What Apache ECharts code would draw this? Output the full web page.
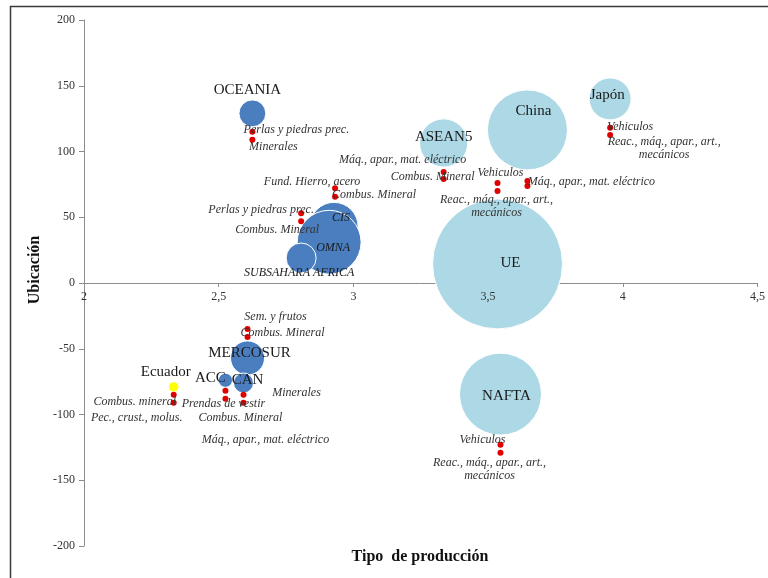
<!DOCTYPE html>
<html>
<head>
<meta charset="utf-8">
<script src="https://cdn.jsdelivr.net/npm/echarts@6/dist/echarts.min.js"></script>
<style>html,body{margin:0;padding:0;background:#fff;}#c{width:768px;height:578px;}</style>
</head>
<body>
<div id="c"></div>
<script>
// ---- data ----
const xTicks = [2, 2.5, 3, 3.5, 4, 4.5];
const yTicks = [-200, -150, -100, -50, 0, 50, 100, 150, 200];

const developingNames = ['OCEANIA', 'CIS', 'OMNA', 'SUBSAHARA AFRICA', 'MERCOSUR', 'ACC', 'CAN'];
const developingX = [2.625, 2.928, 2.91, 2.806, 2.607, 2.525, 2.592];
const developingY = [129, 43, 31, 19, -57, -74, -76];
const developingWeight = [18, 58, 102, 22.5, 29, 5, 10];

const developedNames = ['ASEAN5', 'China', 'Japón', 'UE', 'NAFTA'];
const developedX = [3.335, 3.646, 3.953, 3.535, 3.546];
const developedY = [106.5, 116.4, 140, 14.5, -84.5];
const developedWeight = [58, 160, 44, 422, 168];

const ecuadorName = ['Ecuador'];
const ecuadorX = [2.333];
const ecuadorY = [-79];
const ecuadorWeight = [2.2];

const productNames = [
  'Perlas y piedras prec.', 'Minerales',
  'Fund. Hierro, acero', 'Combus. Mineral',
  'Perlas y piedras prec.', 'Combus. Mineral',
  'Máq., apar., mat. eléctrico', 'Combus. Mineral',
  'Vehiculos', 'Reac., máq., apar., art.,\nmecánicos',
  'Máq., apar., mat. eléctrico', '',
  'Vehiculos', 'Reac., máq., apar., art.,\nmecánicos',
  'Vehiculos', 'Reac., máq., apar., art.,\nmecánicos',
  'Sem. y frutos', 'Combus. Mineral',
  'Combus. mineral', 'Pec., crust., molus.',
  'Prendas de vestir', 'Combus. Mineral',
  'Minerales', 'Máq., apar., mat. eléctrico'
];
const productX = [
  2.625, 2.625, 2.932, 2.932, 2.806, 2.806, 3.335, 3.335, 3.535, 3.535,
  3.646, 3.646, 3.953, 3.953, 3.546, 3.546, 2.607, 2.607, 2.333, 2.333,
  2.525, 2.525, 2.592, 2.592
];
const productY = [
  115, 109, 72, 65.5, 53, 47, 84.5, 79, 76, 70,
  77.6, 73.8, 118, 112.5, -123, -129, -35, -41, -85, -91,
  -82, -88, -85, -91
];

// ---- label placement (styling only) ----
const developingLabelOffset = [[-5, -23], [7, -9], [4, 6], [-2, 15], [2, -5], [-15, -2], [4, -3]];
const developingLabelItalic = [false, true, true, true, false, false, false];
const developedLabelOffset = [[0, -6], [6, -19], [-3, -4], [13, -1], [6, 2]];
const ecuadorLabelOffset = [[-8, -15]];
const productLabelOffset = [
  [44, -2], [21, 7],
  [-23, -6], [39, -2],
  [-40, -3], [-24, 9],
  [-41, -12], [-11, -2],
  [3, -10], [-1, 15],
  [64, 1], [0, 0],
  [20, -1], [54, 13],
  [-18, -5], [-11, 17],
  [28, -12], [35, -4],
  [-39, 7], [-37, 15],
  [-2, 13], [15, 19],
  [53, -2], [22, 37]
];

const SERIF = '"Liberation Serif", "Times New Roman", serif';

function bubbleData(names, xs, ys, ws, offs, italics) {
  return names.map((n, i) => ({
    name: n,
    value: [xs[i], ys[i], ws[i]],
    label: {
      offset: offs[i],
      fontStyle: italics && italics[i] ? 'italic' : 'normal',
      fontSize: italics && italics[i] ? 12 : 15
    }
  }));
}
const bubbleSize = v => Math.sqrt(v[2] * 10) * 2;
const bubbleLabel = {
  show: true, position: 'inside', formatter: '{b}',
  fontFamily: SERIF, color: '#1a1a1a'
};

const GRID_TOP = 20, GRID_BOTTOM = 32, H = 578;
const plotH = H - GRID_TOP - GRID_BOTTOM;
const zeroOffset = -plotH * (0 - yTicks[0]) / (yTicks[yTicks.length - 1] - yTicks[0]);

const xBase = {
  type: 'value', min: xTicks[0], max: xTicks[xTicks.length - 1], interval: 0.5,
  position: 'bottom', offset: zeroOffset, splitLine: { show: false }
};

const chart = echarts.init(document.getElementById('c'), null, { renderer: 'canvas' });
chart.setOption({
  animation: false,
  backgroundColor: '#fff',
  grid: { left: 84, right: 8, top: GRID_TOP, bottom: GRID_BOTTOM, containLabel: false },
  xAxis: [
    Object.assign({}, xBase, {
      z: 0,
      axisLine: { onZero: false, lineStyle: { color: '#8c8c8c', width: 1 } },
      axisTick: { show: true, length: 4, lineStyle: { color: '#8c8c8c' } },
      axisLabel: { show: false }
    }),
    Object.assign({}, xBase, {
      z: 20,
      axisLine: { show: false, onZero: false },
      axisTick: { show: false },
      axisLabel: {
        margin: 8, fontFamily: SERIF, fontSize: 12, color: '#333',
        formatter: v => String(v).replace('.', ',')
      }
    })
  ],
  yAxis: {
    type: 'value', min: yTicks[0], max: yTicks[yTicks.length - 1], interval: 50,
    axisLine: { show: true, onZero: false, lineStyle: { color: '#8c8c8c', width: 1 } },
    axisTick: { show: true, length: 5, lineStyle: { color: '#8c8c8c' } },
    axisLabel: { margin: 9, fontFamily: SERIF, fontSize: 12, color: '#333' },
    splitLine: { show: false }
  },
  graphic: [
    {
      type: 'rect', silent: true, z: 100,
      shape: { x: 10.5, y: 6.5, width: 900, height: 700 },
      style: { fill: null, stroke: '#3a3a3a', lineWidth: 1.5 }
    },
    {
      type: 'text', silent: true, x: 420, y: 557,
      style: {
        text: 'Tipo  de producción', font: 'bold 16px ' + SERIF, fill: '#111',
        textAlign: 'center', textVerticalAlign: 'middle'
      }
    },
    {
      type: 'text', silent: true, x: 35, y: 270, rotation: Math.PI / 2,
      style: {
        text: 'Ubicación', font: 'bold 16px ' + SERIF, fill: '#111',
        textAlign: 'center', textVerticalAlign: 'middle'
      }
    }
  ],
  series: [
    {
      name: 'Desarrollados', type: 'scatter', z: 2, xAxisIndex: 0,
      symbolSize: bubbleSize,
      itemStyle: { color: '#ADD8E6', borderColor: '#fff', borderWidth: 1, opacity: 1 },
      label: bubbleLabel,
      emphasis: { disabled: true },
      data: bubbleData(developedNames, developedX, developedY, developedWeight, developedLabelOffset)
    },
    {
      name: 'En desarrollo', type: 'scatter', z: 3, xAxisIndex: 0,
      symbolSize: bubbleSize,
      itemStyle: { color: '#4A7EBF', borderColor: '#fff', borderWidth: 1, opacity: 1 },
      label: bubbleLabel,
      emphasis: { disabled: true },
      data: bubbleData(developingNames, developingX, developingY, developingWeight, developingLabelOffset, developingLabelItalic)
    },
    {
      name: 'Ecuador', type: 'scatter', z: 3, xAxisIndex: 0,
      symbolSize: bubbleSize,
      itemStyle: { color: '#FFFF00', opacity: 1 },
      label: bubbleLabel,
      emphasis: { disabled: true },
      data: bubbleData(ecuadorName, ecuadorX, ecuadorY, ecuadorWeight, ecuadorLabelOffset)
    },
    {
      name: 'Productos', type: 'scatter', z: 4, xAxisIndex: 0,
      symbolSize: 6,
      itemStyle: { color: '#E00000', opacity: 1 },
      label: {
        show: true, position: 'inside', formatter: '{b}',
        fontFamily: SERIF, fontStyle: 'italic', fontSize: 12, color: '#333',
        align: 'center', lineHeight: 13
      },
      emphasis: { disabled: true },
      data: productNames.map((n, i) => ({
        name: n,
        value: [productX[i], productY[i]],
        label: { offset: productLabelOffset[i] }
      }))
    }
  ]
});
</script>
</body>
</html>
